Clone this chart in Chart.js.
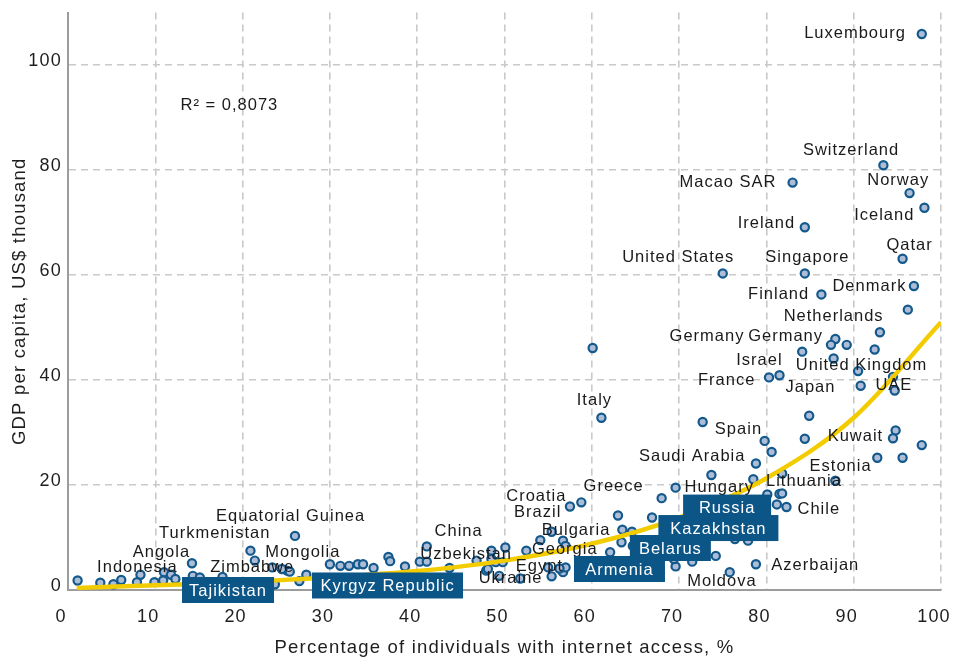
<!DOCTYPE html>
<html>
<head>
<meta charset="utf-8">
<script src="https://cdn.jsdelivr.net/npm/chart.js@4.4.1/dist/chart.umd.min.js"></script>
<style>
  html, body { margin: 0; padding: 0; background: #fff; }
  #wrap { width: 955px; height: 657px; }
</style>
</head>
<body>
<div id="wrap"><canvas id="chart"></canvas></div>
<script>
// internet access (%) and GDP per capita (US$ thousand), one entry per country
const internetAccess = [
  97.8, 93.4, 83.0, 96.4, 98.1, 84.4, 95.6, 75.0, 84.4, 86.3, 96.9, 96.2,
  93.0, 87.9, 87.4, 89.2, 84.1, 92.4, 87.7, 90.5, 94.5, 94.7, 90.8, 80.3, 81.5,
  84.9, 84.4, 79.8, 80.6, 94.8, 94.5, 97.8, 92.7, 95.6, 78.8, 78.5, 81.8, 87.9,
  80.1, 81.5, 81.8, 81.2, 82.3, 77.9, 76.4, 78.8,
  60.1, 61.1, 72.7, 73.7, 69.6, 68.0, 66.9, 74.2, 69.6, 71.5, 75.8,
  57.5, 58.8, 63.0, 63.5, 64.6, 56.7, 57.0, 62.1, 63.4, 64.7, 56.7, 57.0, 69.4,
  41.1, 40.3, 41.1, 36.7, 36.9, 38.6, 35.0, 33.2, 33.8, 32.2, 31.2, 30.0,
  43.7, 46.8, 48.5, 50.1, 49.0, 49.8, 47.9, 49.4, 51.8, 52.5, 54.1, 55.4,
  55.0, 55.4, 56.3, 48.1, 48.5,
  1.1, 3.7, 6.1, 5.2, 8.3, 7.9, 9.9, 11.0, 11.8, 10.9, 12.3, 14.2, 14.3, 15.1,
  17.7, 20.9, 21.4, 26.0, 23.4, 25.1, 25.4, 24.5, 27.3, 26.5, 23.7
];
const gdpPerCapita = [
  105.9, 80.9, 77.6, 75.6, 72.8, 69.1, 63.1, 60.3, 60.3, 56.3, 57.9, 53.4,
  49.1, 47.8, 46.7, 46.7, 45.4, 45.8, 44.1, 41.7, 40.6, 38.0, 38.9, 40.5, 40.9,
  33.2, 28.8, 28.4, 26.3, 30.4, 28.9, 27.6, 25.2, 25.2, 24.1, 21.1, 22.2, 20.8,
  18.2, 18.3, 18.4, 16.3, 15.8, 9.4, 9.7, 4.9,
  46.1, 32.8, 32.0, 21.9, 19.5, 17.5, 13.8, 6.5, 4.5, 5.4, 3.4,
  15.9, 16.7, 14.2, 11.5, 11.1, 9.4, 8.4, 7.2, 9.1, 8.4, 3.4, 4.3, 5.9,
  8.3, 5.4, 5.4, 6.3, 5.5, 4.5, 4.2, 4.9, 4.9, 4.6, 4.6, 4.9,
  4.2, 5.6, 7.5, 8.1, 5.3, 5.3, 3.7, 2.7, 2.2, 7.5, 9.5, 11.1,
  4.3, 2.6, 4.1, 4.0, 5.9,
  1.8, 1.4, 1.9, 1.1, 2.9, 1.5, 1.5, 3.4, 2.9, 1.8, 2.1, 5.1, 2.7, 2.4,
  2.5, 7.5, 5.6, 10.3, 4.3, 3.7, 3.5, 4.0, 2.9, 1.7, 1.1
];

// exponential trend line
const trendX = [1, 10, 20, 30, 40, 50, 60, 70, 80, 90, 100];
const trendY = [0.4, 0.9, 1.5, 2.4, 3.6, 5.6, 8.8, 13.8, 21.3, 32.8, 51];

const xTicks = [0, 10, 20, 30, 40, 50, 60, 70, 80, 90, 100];
const yTicks = [0, 20, 40, 60, 80, 100];

// country names, placed at [x, y] in data units (text centre)
const countryNames = [
  ["Luxembourg", 90.15, 106.0], ["Switzerland", 89.7, 83.8], ["Macao SAR", 75.6, 77.6],
  ["Norway", 95.1, 78.1], ["Iceland", 93.5, 71.4], ["Ireland", 80.0, 69.8],
  ["United States", 69.9, 63.4], ["Singapore", 84.7, 63.3], ["Qatar", 96.4, 65.7],
  ["Finland", 81.4, 56.35], ["Denmark", 91.8, 57.9], ["Netherlands", 87.7, 52.1],
  ["Germany", 73.2, 48.3], ["Germany", 82.2, 48.3], ["Israel", 79.2, 43.7],
  ["France", 75.45, 39.95], ["United Kingdom", 90.9, 42.7], ["Japan", 85.05, 38.5],
  ["UAE", 94.6, 38.9], ["Italy", 60.3, 36.1], ["Spain", 76.8, 30.6],
  ["Kuwait", 90.2, 29.2], ["Saudi Arabia", 71.5, 25.5], ["Estonia", 88.5, 23.6],
  ["Greece", 62.5, 19.75], ["Hungary", 74.6, 19.6], ["Lithuania", 84.3, 20.6],
  ["Chile", 86.0, 15.4], ["Azerbaijan", 85.6, 4.75], ["Moldova", 74.9, 1.65],
  ["Croatia", 53.65, 17.9], ["Brazil", 53.8, 14.75], ["Bulgaria", 58.2, 11.3],
  ["China", 44.75, 11.1], ["Georgia", 56.9, 7.65], ["Uzbekistan", 45.6, 6.8],
  ["Egypt", 54.0, 4.5], ["Ukraine", 50.7, 2.2], ["Equatorial Guinea", 25.5, 14.1],
  ["Turkmenistan", 16.8, 10.8], ["Angola", 10.7, 7.15], ["Indonesia", 7.95, 4.2],
  ["Zimbabwe", 21.1, 4.2], ["Mongolia", 26.9, 7.15]
];
// highlighted countries: [name, x, y, box width px]
const highlighted = [
  ["Tajikistan", 18.33, 0.0, 92], ["Kyrgyz Republic", 36.6, 0.86, 151],
  ["Armenia", 63.17, 4.0, 91], ["Belarus", 69.0, 8.0, 81],
  ["Kazakhstan", 74.5, 11.8, 120], ["Russia", 75.5, 15.7, 88]
];

const points = internetAccess.map((x, i) => ({ x: x, y: gdpPerCapita[i] }));
const trend = trendX.map((x, i) => ({ x: x, y: trendY[i] }));

Chart.defaults.font.family = '"Liberation Sans", Arial, sans-serif';
Chart.defaults.color = '#1e1e1e';

const labelPlugin = {
  id: 'labelPlugin',
  beforeDraw(chart) {
    chart.ctx.letterSpacing = '1.2px';
  },
  afterDatasetsDraw(chart) {
    const ctx = chart.ctx;
    const xs = chart.scales.x, ys = chart.scales.y;
    ctx.save();
    ctx.letterSpacing = '1px';
    ctx.font = '16.5px "Liberation Sans", Arial, sans-serif';
    ctx.textAlign = 'center';
    ctx.textBaseline = 'middle';
    ctx.fillStyle = '#1a1a1a';
    countryNames.forEach(([name, x, y]) => {
      ctx.fillText(name, xs.getPixelForValue(x), ys.getPixelForValue(y));
    });
    ctx.textAlign = 'left';
    ctx.fillText('R\u00b2 = 0,8073', xs.getPixelForValue(12.9), ys.getPixelForValue(92.3));

    ctx.textAlign = 'center';
    ctx.fillStyle = '#0b5587';
    highlighted.forEach(([name, x, y, w]) => {
      const px = xs.getPixelForValue(x), py = ys.getPixelForValue(y);
      ctx.fillRect(px - w / 2, py - 13, w, 26);
    });
    ctx.fillStyle = '#ffffff';
    highlighted.forEach(([name, x, y]) => {
      ctx.fillText(name, xs.getPixelForValue(x), ys.getPixelForValue(y) + 1);
    });
    ctx.restore();
  }
};

const gridColor = (c) => (c.tick && c.tick.value === 0) ? 'rgba(0,0,0,0)' : '#c9c9c9';

// pin the plot area: the scales should not grow padding for their end labels
const noEdgePadding = (s) => {
  s.paddingLeft = 0; s.paddingRight = 0; s.paddingTop = 0; s.paddingBottom = 0;
};

new Chart(document.getElementById('chart'), {
  type: 'scatter',
  data: {
    datasets: [
      {
        type: 'line',
        data: trend,
        borderColor: '#f3cc00',
        borderWidth: 4.5,
        pointRadius: 0,
        cubicInterpolationMode: 'monotone',
        order: 0
      },
      {
        data: points,
        backgroundColor: '#aebdd7',
        borderColor: '#13598c',
        borderWidth: 2.2,
        pointRadius: 4.1,
        order: 1
      }
    ]
  },
  options: {
    responsive: true,
    maintainAspectRatio: false,
    animation: false,
    layout: { padding: { top: 12.5, right: 14, left: 0, bottom: 0 }, autoPadding: false },
    plugins: { legend: { display: false }, tooltip: { enabled: false } },
    scales: {
      x: {
        type: 'linear',
        min: 0,
        max: 100,
        afterBuildTicks: (s) => { s.ticks = xTicks.map(v => ({ value: v })); },
        afterFit: (s) => { s.height = 67; noEdgePadding(s); },
        ticks: { font: { size: 18 }, padding: 16, labelOffset: -7, color: '#1e1e1e' },
        grid: { color: gridColor, lineWidth: 1.6, drawTicks: false },
        border: { display: true, color: '#9c9c9c', width: 2, dash: [7, 5] },
        title: {
          display: true,
          text: 'Percentage of individuals with internet access, %',
          font: { size: 18.5, lineHeight: 1 },
          padding: { top: 0, bottom: 0 },
          color: '#1e1e1e'
        }
      },
      y: {
        type: 'linear',
        min: 0,
        max: 110,
        afterBuildTicks: (s) => { s.ticks = yTicks.map(v => ({ value: v })); },
        afterFit: (s) => { s.width = 68; noEdgePadding(s); },
        ticks: { font: { size: 18 }, padding: 6, labelOffset: -4, color: '#1e1e1e' },
        grid: { color: gridColor, lineWidth: 1.6, drawTicks: false },
        border: { display: true, color: '#9c9c9c', width: 2, dash: [7, 5] },
        title: {
          display: true,
          text: 'GDP per capita, US$ thousand',
          font: { size: 18.5, lineHeight: 1 },
          padding: { top: 11, bottom: 0 },
          color: '#1e1e1e'
        }
      }
    }
  },
  plugins: [labelPlugin]
});
</script>
</body>
</html>
